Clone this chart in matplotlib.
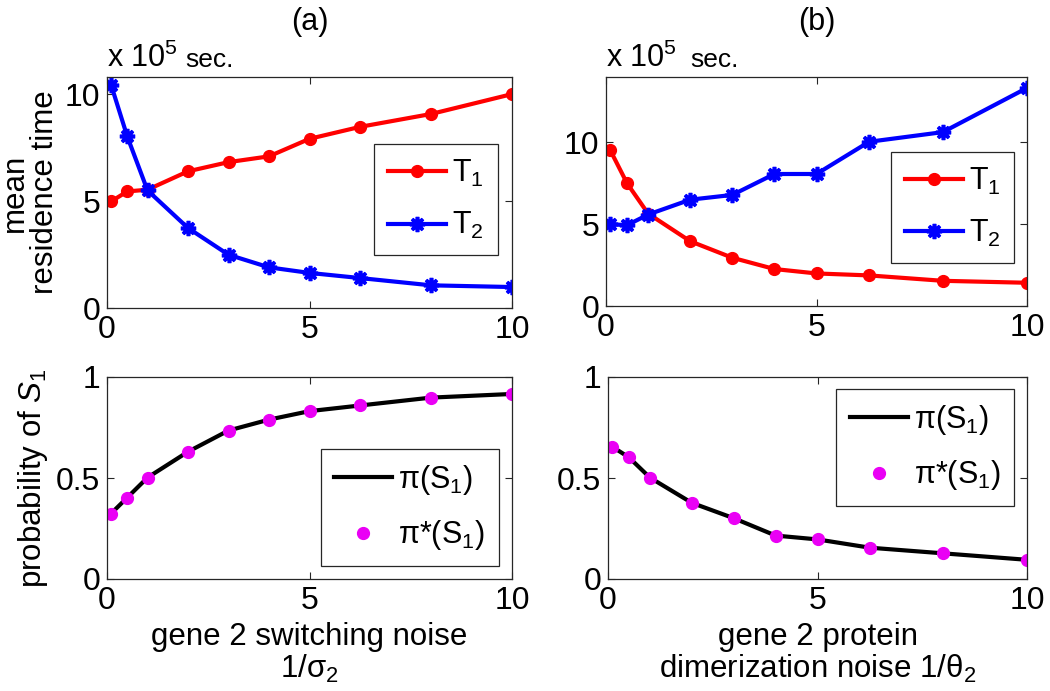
#!/usr/bin/env python3
"""Mean residence times and probability of S1 vs. gene 2 noise (panels a, b)."""

import matplotlib
matplotlib.use("Agg")
import matplotlib.pyplot as plt

plt.rcParams["font.family"] = ["Liberation Sans", "DejaVu Sans"]
plt.rcParams["mathtext.fontset"] = "custom"
plt.rcParams["mathtext.rm"] = "Liberation Sans"
plt.rcParams["mathtext.it"] = "Liberation Sans:italic"
plt.rcParams["mathtext.bf"] = "Liberation Sans:bold"

# noise level on the x axis (same for both panels)
noise = [0.1, 0.5, 1, 2, 3, 4, 5, 6.25, 8, 10]

# panel (a): gene 2 switching noise, times in units of 1e5 sec
t1_a = [4.98, 5.45, 5.53, 6.39, 6.82, 7.09, 7.91, 8.47, 9.07, 10.0]
t2_a = [10.44, 8.02, 5.5, 3.74, 2.49, 1.90, 1.64, 1.40, 1.06, 0.98]
pi_a = [0.324, 0.403, 0.502, 0.630, 0.735, 0.789, 0.831, 0.859, 0.898, 0.916]

# panel (b): gene 2 protein dimerization noise
t1_b = [9.53, 7.50, 5.65, 3.96, 2.95, 2.26, 1.99, 1.87, 1.54, 1.42]
t2_b = [5.0, 4.94, 5.59, 6.50, 6.79, 8.07, 8.07, 10.04, 10.63, 13.33]
pi_b = [0.655, 0.602, 0.502, 0.377, 0.301, 0.215, 0.196, 0.155, 0.127, 0.095]

W, H = 1050, 691
SPINE = "0.15"
FS_TICK = 23
FS_LAB = 22.5
FS_LEG = 22
MAGENTA = "#ea00f5"
ASTERISK = (8, 2, 0)


def _box(left, top, right, bottom):
    """Axes rectangle in figure fraction from pixel edges."""
    return [left / W, 1 - bottom / H, (right - left) / W, (bottom - top) / H]


def _style(ax, yticks, ylim):
    ax.set_xlim(0, 10)
    ax.set_ylim(*ylim)
    ax.set_xticks([0, 5, 10])
    ax.set_yticks(yticks)
    ax.tick_params(direction="in", length=5, width=0.8, color=SPINE,
                   top=True, right=True, labelsize=FS_TICK, pad=5)
    for s in ax.spines.values():
        s.set_color(SPINE)
        s.set_linewidth(0.9)


def _legend(ax, anchor, loc):
    leg = ax.legend(loc=loc, bbox_to_anchor=anchor, fontsize=FS_LEG,
                    fancybox=False, framealpha=1, edgecolor=SPINE,
                    numpoints=1, handlelength=1.9, borderpad=0.45,
                    labelspacing=0.7, handletextpad=0.2, borderaxespad=0)
    leg.get_frame().set_linewidth(0.9)
    return leg


def top_panel(ax, t1, t2, ylim, anchor, sec_x):
    ax.plot(noise, t1, color="#ff0000", lw=3, marker="o", ms=8.5,
            label="T$_1$")
    ax.plot(noise, t2, color="#0000ff", lw=3, marker=ASTERISK, ms=11,
            mew=2.6, label="T$_2$")
    _style(ax, [0, 5, 10], ylim)
    _legend(ax, anchor, "upper right")
    ax.text(0.0, 1.045, "x 10$^5$", transform=ax.transAxes,
            fontsize=22, ha="left", va="baseline")
    ax.text(sec_x, 1.045, "sec.", transform=ax.transAxes,
            fontsize=19, ha="left", va="baseline")


def bottom_panel(ax, pi, anchor, loc):
    ax.plot(noise, pi, color="black", lw=3, label="π(S$_1$)")
    ax.plot(noise, pi, ls="none", marker="o", ms=8.5, color=MAGENTA,
            label="π*(S$_1$)")
    _style(ax, [0, 0.5, 1], (0, 1))
    ax.set_yticklabels(["0", "0.5", "1"])
    _legend(ax, anchor, loc)


fig = plt.figure(figsize=(W / 100, H / 100), dpi=100)

ax_at = fig.add_axes(_box(107, 77, 512, 308))
ax_bt = fig.add_axes(_box(606, 77, 1027, 306))
ax_ab = fig.add_axes(_box(107, 377, 512, 579))
ax_bb = fig.add_axes(_box(608, 377, 1027, 579))

top_panel(ax_at, t1_a, t2_a, (0, 10.8), (0.965, 0.71), 0.193)
top_panel(ax_bt, t1_b, t2_b, (0, 14), (0.97, 0.674), 0.20)
bottom_panel(ax_ab, pi_a, (0.968, 0.643), "upper right")
bottom_panel(ax_bb, pi_b, (0.97, 0.94), "upper right")

ax_at.set_title("(a)", fontsize=22, pad=34)
ax_bt.set_title("(b)", fontsize=22, pad=34)

ax_at.set_ylabel("mean\nresidence time", fontsize=FS_LAB, linespacing=1.0,
                 labelpad=3)
ax_ab.set_ylabel(r"probability of $\mathit{S}_\mathit{1}$", fontsize=FS_LAB,
                 labelpad=4)

ax_ab.set_xlabel("gene 2 switching noise\n" + r"$\mathit{1/}$σ$_2$",
                 fontsize=FS_LAB, linespacing=1.05, labelpad=4)
ax_bb.set_xlabel("gene 2 protein\ndimerization noise " + r"$\mathit{1/}$θ$_2$",
                 fontsize=FS_LAB, linespacing=1.05, labelpad=4)

fig.savefig("out.png", dpi=100)
